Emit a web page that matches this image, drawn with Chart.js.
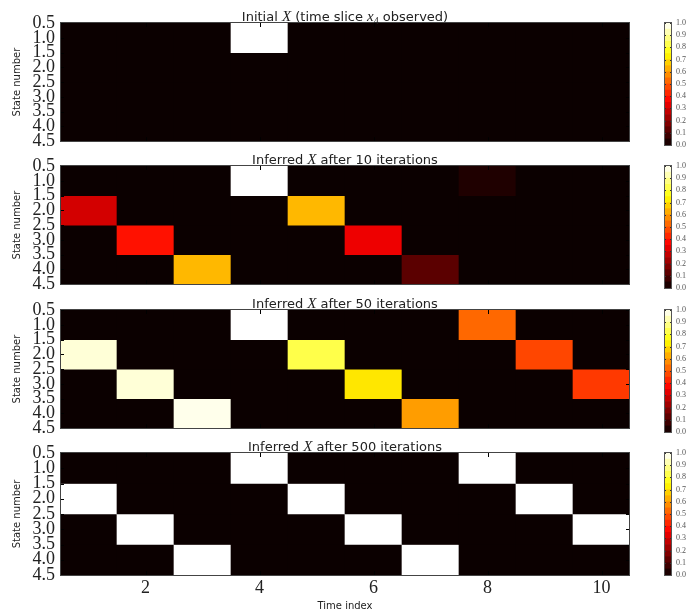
<!DOCTYPE html>
<html>
<head>
<meta charset="utf-8">
<script src="https://cdn.jsdelivr.net/npm/chart.js@4.4.1/dist/chart.umd.min.js"></script>
<style>
  body { margin: 0; background: #fff; }
  #wrap { position: relative; width: 692px; height: 613px; }
  canvas { position: absolute; }
</style>
</head>
<body>
<div id="wrap"></div>
<script>
const times = [1, 2, 3, 4, 5, 6, 7, 8, 9, 10];
const states = [1, 2, 3, 4];
const xTicks = [2, 4, 6, 8, 10];
const yTicks = [0.5, 1.0, 1.5, 2.0, 2.5, 3.0, 3.5, 4.0, 4.5];
const cbTicks = [0, 0.1, 0.2, 0.3, 0.4, 0.5, 0.6, 0.7, 0.8, 0.9, 1.0];
const cbEdges = [0, 0.05, 0.1, 0.15, 0.2, 0.25, 0.3, 0.35, 0.4, 0.45, 0.5,
                 0.55, 0.6, 0.65, 0.7, 0.75, 0.8, 0.85, 0.9, 0.95, 1.0];

// rows: state 1..4, columns: time 1..10
const initialX = [
  [0, 0, 0, 1, 0, 0, 0, 0, 0, 0],
  [0, 0, 0, 0, 0, 0, 0, 0, 0, 0],
  [0, 0, 0, 0, 0, 0, 0, 0, 0, 0],
  [0, 0, 0, 0, 0, 0, 0, 0, 0, 0]
];
const iter10 = [
  [0, 0, 0, 1, 0, 0, 0, 0.03, 0, 0],
  [0.3, 0, 0, 0, 0.64, 0, 0, 0, 0, 0],
  [0, 0.39, 0, 0, 0, 0.34, 0, 0, 0, 0],
  [0, 0, 0.64, 0, 0, 0, 0.12, 0, 0, 0]
];
const iter50 = [
  [0, 0, 0, 1, 0, 0, 0, 0.52, 0, 0],
  [0.96, 0, 0, 0, 0.82, 0, 0, 0, 0.47, 0],
  [0, 0.96, 0, 0, 0, 0.71, 0, 0, 0, 0.45],
  [0, 0, 0.98, 0, 0, 0, 0.6, 0, 0, 0]
];
const iter500 = [
  [0, 0, 0, 1, 0, 0, 0, 1, 0, 0],
  [1, 0, 0, 0, 1, 0, 0, 0, 1, 0],
  [0, 1, 0, 0, 0, 1, 0, 0, 0, 1],
  [0, 0, 1, 0, 0, 0, 1, 0, 0, 0]
];

const panels = [
  { title: 'Initial $X$ (time slice $x_4$ observed)', values: initialX, top: 23 },
  { title: 'Inferred $X$ after 10 iterations', values: iter10, top: 166 },
  { title: 'Inferred $X$ after 50 iterations', values: iter50, top: 310 },
  { title: 'Inferred $X$ after 500 iterations', values: iter500, top: 453 }
];
const plotH = 122;

// matplotlib "hot"
function hot(v) {
  const c = x => Math.max(0, Math.min(1, x));
  const r = c(0.0416 + v / 0.365079 * (1 - 0.0416));
  const g = c((v - 0.365079) / (0.746032 - 0.365079));
  const b = c((v - 0.746032) / (1 - 0.746032));
  return `rgb(${Math.round(r * 255)},${Math.round(g * 255)},${Math.round(b * 255)})`;
}

const mathTitle = {
  id: 'mathTitle',
  afterDraw(chart, args, opts) {
    if (!opts.text) return;
    const { ctx, chartArea } = chart;
    const parts = [];
    opts.text.split('$').forEach((seg, i) => {
      if (i % 2 === 0) {
        if (seg) parts.push({ t: seg, font: '13px "DejaVu Sans"', dy: 0 });
      } else {
        const [base, sub] = seg.split('_');
        parts.push({ t: base, font: 'italic 15px "Liberation Serif"', dy: 0 });
        if (sub) parts.push({ t: sub, font: '10px "Liberation Serif"', dy: 3 });
      }
    });
    ctx.save();
    let w = 0;
    parts.forEach(p => { ctx.font = p.font; p.w = ctx.measureText(p.t).width; w += p.w; });
    let x = (chartArea.left + chartArea.right) / 2 - w / 2;
    const y = chartArea.top - 2;
    ctx.fillStyle = '#222';
    ctx.textAlign = 'left';
    ctx.textBaseline = 'alphabetic';
    parts.forEach(p => { ctx.font = p.font; ctx.fillText(p.t, x, y + p.dy); x += p.w; });
    ctx.restore();
  }
};

const frame = {
  id: 'frame',
  beforeDatasetsDraw(chart, args, opts) {
    if (!opts.bg) return;
    const { ctx, chartArea: a } = chart;
    ctx.save();
    ctx.fillStyle = opts.bg;
    ctx.fillRect(a.left, a.top, a.width, a.height);
    ctx.restore();
  },
  afterDatasetsDraw(chart, args, opts) {
    const { ctx, chartArea: a } = chart;
    ctx.save();
    ctx.lineWidth = 1;
    ctx.strokeStyle = opts.tickColor || '#000';
    ctx.beginPath();
    if (opts.xt) {
      opts.xt.forEach(v => {
        const px = Math.round(chart.scales.x.getPixelForValue(v)) + 0.5;
        ctx.moveTo(px, a.top); ctx.lineTo(px, a.top + opts.len);
        ctx.moveTo(px, a.bottom); ctx.lineTo(px, a.bottom - opts.len);
      });
    }
    opts.yt.forEach(v => {
      const py = Math.round(chart.scales.y.getPixelForValue(v)) + 0.5;
      ctx.moveTo(a.left, py); ctx.lineTo(a.left + opts.len, py);
      ctx.moveTo(a.right, py); ctx.lineTo(a.right - opts.len, py);
    });
    ctx.stroke();
    ctx.strokeStyle = opts.color;
    ctx.strokeRect(Math.round(a.left) + 0.5, Math.round(a.top) - 0.5, Math.round(a.width) - 1, Math.round(a.height) + 1);
    ctx.restore();
  }
};

const wrap = document.getElementById('wrap');
function addCanvas(left, top, w, h) {
  const c = document.createElement('canvas');
  c.width = w; c.height = h;
  c.style.left = left + 'px'; c.style.top = top + 'px';
  wrap.appendChild(c);
  return c;
}

panels.forEach((p, pi) => {
  const last = pi === panels.length - 1;
  const bottomSpace = last ? 38 : 12;
  const cv = addCanvas(0, p.top - 22, 650, 22 + plotH + bottomSpace);

  new Chart(cv, {
    type: 'bar',
    data: {
      datasets: states.map((s, si) => ({
        data: times.map(t => ({ x: t, y: [s - 0.5, s + 0.5] })),
        backgroundColor: p.values[si].map(v => hot(v)),
        borderWidth: 0
      }))
    },
    options: {
      responsive: false,
      animation: false,
      layout: { padding: { top: 22, right: 20, bottom: last ? 0 : 12, left: 0 } },
      datasets: { bar: { grouped: false, categoryPercentage: 1, barPercentage: 1 } },
      scales: {
        x: {
          type: 'linear', min: 0.5, max: 10.5, offset: false, display: last,
          afterBuildTicks: s => { s.ticks = xTicks.map(v => ({ value: v })); },
          afterFit: s => { s.height = last ? 38 : 0; },
          grid: { display: false, drawTicks: false, offset: false },
          border: { display: false },
          ticks: {
            autoSkip: false, maxRotation: 0, padding: 2, color: '#222',
            font: { family: '"Liberation Serif"', size: 18 },
            callback: v => String(v)
          },
          title: {
            display: true, text: 'Time index', color: '#222',
            font: { family: '"DejaVu Sans"', size: 10 },
            padding: { top: 0, bottom: 1 }
          }
        },
        y: {
          type: 'linear', min: 0.5, max: 4.5, reverse: true,
          afterBuildTicks: s => { s.ticks = yTicks.map(v => ({ value: v })); },
          afterFit: s => { s.width = 60; },
          grid: { display: false, drawTicks: false },
          border: { display: false },
          ticks: {
            autoSkip: false, padding: 5, color: '#222',
            font: { family: '"Liberation Serif"', size: 18 },
            callback: v => v.toFixed(1)
          },
          title: {
            display: true, text: 'State number', color: '#222',
            font: { family: '"DejaVu Sans"', size: 10 },
            padding: { top: 11, bottom: 0 }
          }
        }
      },
      plugins: {
        legend: { display: false },
        tooltip: { enabled: false },
        mathTitle: { text: p.title },
        frame: { bg: hot(0), color: '#444', tickColor: '#000', len: 4, xt: xTicks, yt: yTicks }
      }
    },
    plugins: [mathTitle, frame]
  });

  // colour bar
  const cb = addCanvas(650, p.top - 22, 42, 22 + plotH + 12);
  new Chart(cb, {
    type: 'bar',
    data: {
      labels: ['cb'],
      datasets: cbEdges.slice(0, -1).map((lo, i) => ({
        data: [[lo, cbEdges[i + 1]]],
        backgroundColor: hot((lo + cbEdges[i + 1]) / 2),
        borderWidth: 0
      }))
    },
    options: {
      responsive: false,
      animation: false,
      layout: { padding: { top: 22, right: 0, bottom: 12, left: 14 } },
      datasets: { bar: { grouped: false, categoryPercentage: 1, barPercentage: 1 } },
      scales: {
        x: { display: false },
        y: {
          position: 'right', min: 0, max: 1,
          afterBuildTicks: s => { s.ticks = cbTicks.map(v => ({ value: v })); },
          afterFit: s => { s.width = 20; },
          grid: { display: false, drawTicks: false },
          border: { display: false },
          ticks: {
            autoSkip: false, padding: 4, color: '#555',
            font: { family: '"Liberation Serif"', size: 8 },
            callback: v => v.toFixed(1)
          }
        }
      },
      plugins: {
        legend: { display: false },
        tooltip: { enabled: false },
        frame: { color: '#555', tickColor: '#333', len: 2, yt: cbTicks }
      }
    },
    plugins: [frame]
  });
});
</script>
</body>
</html>
